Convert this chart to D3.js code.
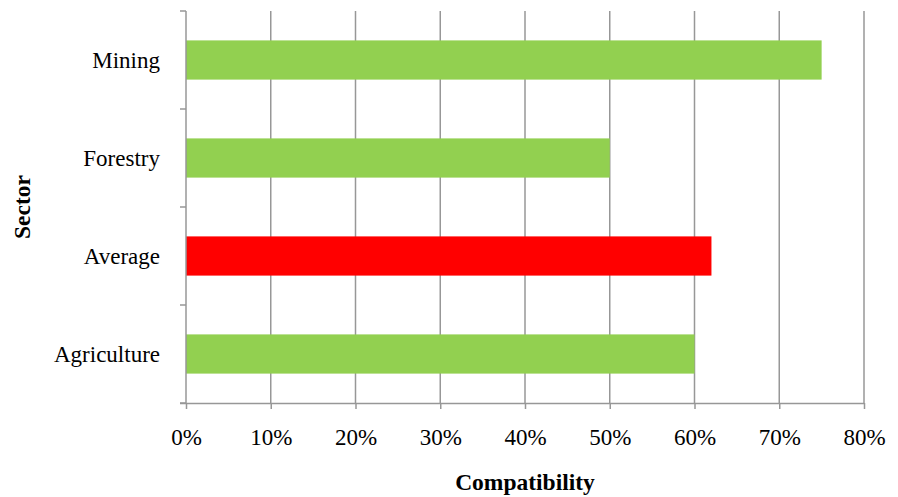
<!DOCTYPE html>
<html>
<head>
<meta charset="utf-8">
<script src="https://cdn.jsdelivr.net/npm/d3@7"></script>
<style>
  html, body { margin: 0; padding: 0; background: #fff; }
  svg { display: block; }
  svg text { font-family: "Liberation Serif", Tinos, "Times New Roman", Times, serif; }
</style>
</head>
<body>
<svg id="chart" width="898" height="497"></svg>
<script>
// Sectors listed bottom to top
const sectors = ["Agriculture", "Average", "Forestry", "Mining"];
const compatibility = [0.60, 0.62, 0.50, 0.75];
const barColors = ["#92D050", "#FF0000", "#92D050", "#92D050"];
const xTicks = [0, 0.1, 0.2, 0.3, 0.4, 0.5, 0.6, 0.7, 0.8];

const svg = d3.select("#chart");
const margin = { left: 186, right: 34, top: 11, bottom: 94 };
const W = 898, H = 497;

const x = d3.scaleLinear().domain([0, 0.8]).range([margin.left, W - margin.right]);
const y = d3.scaleBand()
  .domain(sectors.slice().reverse())
  .range([margin.top, H - margin.bottom])
  .paddingInner(0.6)
  .paddingOuter(0.3);

const gridColor = "#979797";

// vertical gridlines
svg.append("g")
  .selectAll("line")
  .data(xTicks.slice(1))
  .join("line")
  .attr("x1", d => x(d)).attr("x2", d => x(d))
  .attr("y1", margin.top).attr("y2", H - margin.bottom)
  .attr("stroke", gridColor)
  .attr("stroke-width", 1.5);

// bars
svg.append("g")
  .selectAll("rect")
  .data(sectors.map((s, i) => ({ s, v: compatibility[i], c: barColors[i] })))
  .join("rect")
  .attr("x", x(0))
  .attr("y", d => y(d.s))
  .attr("width", d => x(d.v) - x(0))
  .attr("height", y.bandwidth())
  .attr("fill", d => d.c);

// x axis
const xAxis = svg.append("g")
  .attr("transform", `translate(0,${H - margin.bottom})`)
  .call(d3.axisBottom(x).tickValues(xTicks).tickFormat(d3.format(".0%")).tickSize(6).tickPadding(20).tickSizeOuter(0));
xAxis.attr("font-family", null).attr("font-size", null);
xAxis.select(".domain").attr("stroke", gridColor).attr("stroke-width", 1.5)
  .attr("d", `M${x(0) - 6},0.5H${x(0.8)}`);
xAxis.selectAll(".tick line").attr("stroke", gridColor).attr("stroke-width", 1.5);
xAxis.selectAll(".tick text").style("font-size", "23px").attr("fill", "#000");

// y axis with ticks at band boundaries
const yAxisG = svg.append("g").attr("transform", `translate(${x(0)},0)`);
yAxisG.append("line")
  .attr("x1", 0).attr("x2", 0)
  .attr("y1", margin.top).attr("y2", H - margin.bottom)
  .attr("stroke", gridColor).attr("stroke-width", 1.5);
const boundaries = d3.range(sectors.length + 1).map(i => margin.top + i * y.step());
yAxisG.selectAll(".bt")
  .data(boundaries)
  .join("line")
  .attr("class", "bt")
  .attr("x1", -6).attr("x2", 0)
  .attr("y1", d => d).attr("y2", d => d)
  .attr("stroke", gridColor).attr("stroke-width", 1.5);
yAxisG.selectAll(".lbl")
  .data(sectors)
  .join("text")
  .attr("class", "lbl")
  .attr("x", -26)
  .attr("y", d => y(d) + y.bandwidth() / 2)
  .attr("dy", "0.35em")
  .attr("text-anchor", "end")
  .style("font-size", "23px")
  .text(d => d);

// axis titles
svg.append("text")
  .attr("x", (x(0) + x(0.8)) / 2)
  .attr("y", 490)
  .attr("text-anchor", "middle")
  .style("font-size", "23.5px")
  .style("font-weight", "bold")
  .text("Compatibility");

svg.append("text")
  .attr("transform", `translate(30,${(margin.top + H - margin.bottom) / 2}) rotate(-90)`)
  .attr("text-anchor", "middle")
  .style("font-size", "23.5px")
  .style("font-weight", "bold")
  .text("Sector");
</script>
</body>
</html>
